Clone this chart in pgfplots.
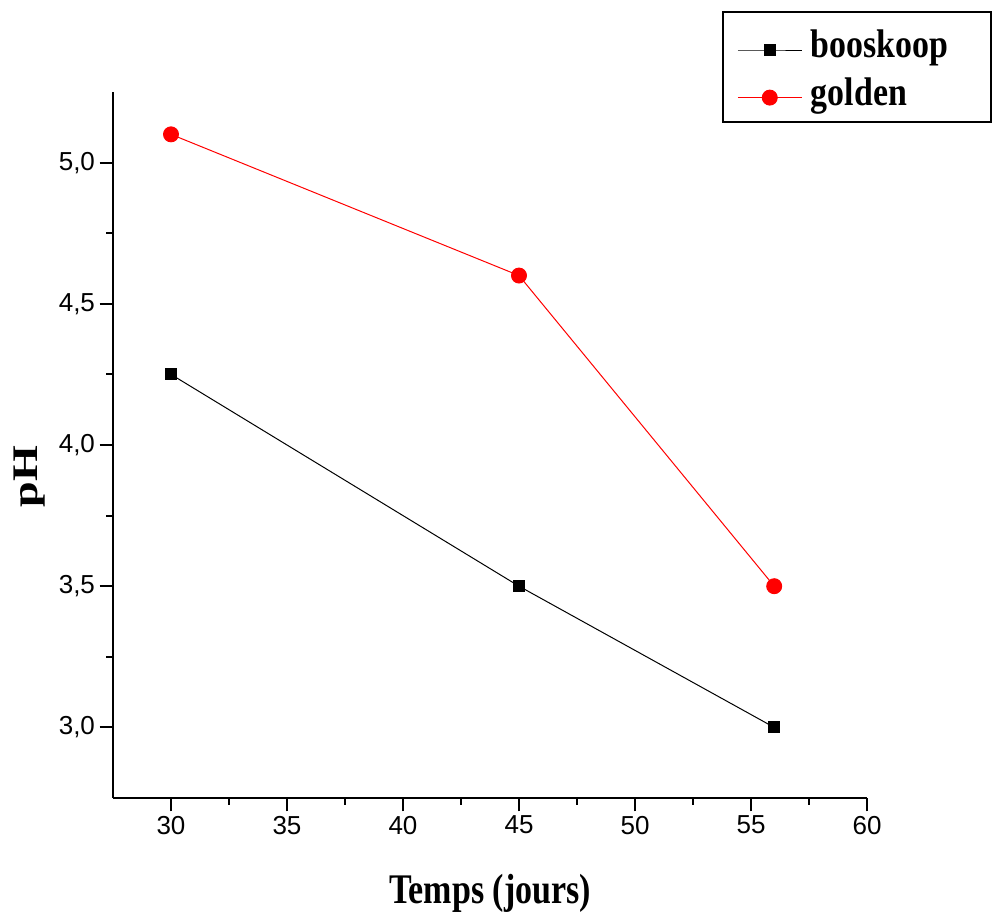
\documentclass[border=0pt]{standalone}
\usepackage{fontspec}
\setmainfont{Liberation Serif}
\setsansfont{Liberation Sans}
\usepackage{graphicx}
\usepackage{pgfplots}
\pgfplotsset{compat=1.18}

% legend text: bold, tall, with a fixed strut so rows line up on the marker
\newcommand{\legtext}[1]{\makebox[127pt][l]{\rule[-12.6pt]{0pt}{26pt}\smash{\scalebox{1}[1.18]{\bfseries\fontsize{25.4}{28}\selectfont #1}}}}

\begin{document}
\begin{tikzpicture}
\begin{axis}[
  at={(0pt,0pt)}, anchor=south west,
  scale only axis, width=565.5pt, height=529.5pt,
  xmin=27.5, xmax=60, ymin=2.75, ymax=5.25,
  axis lines=left, axis line style={-, line width=1.5pt},
  xtick={30,35,40,45,50,55,60}, ytick={3,3.5,4,4.5,5},
  minor x tick num=1, minor y tick num=1,
  tick align=outside,
  major tick length=10pt, minor tick length=5pt,
  tick style={black, line width=1.5pt},
  tick label style={font=\sffamily\fontsize{19.5}{21}\selectfont},
  /pgf/number format/assume math mode=true,
  y tick label style={/pgf/number format/use comma, /pgf/number format/fixed, /pgf/number format/fixed zerofill, /pgf/number format/precision=1},
  xlabel={\scalebox{1}[1.24]{\bfseries\fontsize{25.5}{28}\selectfont Temps (jours)}},
  xlabel style={at={(axis description cs:0.5,-0.150)}, anchor=base},
  ylabel={\scalebox{1.28}[1]{\bfseries\fontsize{27}{30}\selectfont pH}},
  ylabel style={at={(axis description cs:-0.111,0.455)}, anchor=center},
  legend style={at={(axis description cs:0.8276,1.0777)}, anchor=north west,
    draw=none, fill=none, inner sep=0pt, row sep=16.8pt, column sep=4.5pt},
  legend cell align=left,
  legend image code/.code={\draw[#1, mark repeat=2, mark phase=2] plot coordinates {(0pt,0pt) (24pt,0pt) (48pt,0pt)};},
  clip=false,
]
% booskoop
\addplot[black, line width=0.75pt, mark=square*, mark size=4.1pt] coordinates {(30,4.25) (45,3.5) (56,3.0)};
\addlegendentry{\legtext{booskoop}}
% golden
\addplot[red, line width=0.75pt, mark=*, mark options={red}, mark size=5.6pt] coordinates {(30,5.1) (45,4.6) (56,3.5)};
\addlegendentry{\legtext{golden}}
\end{axis}
% legend frame
\draw[black, line width=0.9pt] (457.5pt,589.5pt) rectangle (658.5pt,507pt);
\pgfresetboundingbox
\path[use as bounding box] (-84.75pt,-86.25pt) rectangle (659.25pt,598.5pt);
\end{tikzpicture}
\end{document}
